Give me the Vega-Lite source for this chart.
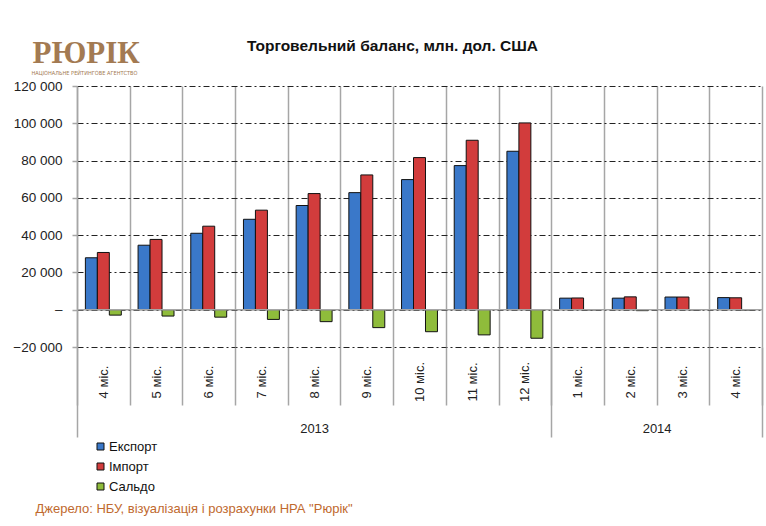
{
  "$schema": "https://vega.github.io/schema/vega-lite/v6.json",
  "width": 685,
  "height": 261,
  "autosize": {"type": "none"},
  "padding": {"left": 77, "top": 86, "right": 4, "bottom": 179},
  "background": "white",
  "config": {
    "view": {"stroke": null},
    "font": "Liberation Sans",
    "axis": {"labelFont": "Liberation Sans", "titleFont": "Liberation Sans"}
  },
  "layer": [
    {
      "data": {
        "values": [
          {"key": "2013|4 міс.", "series": "Експорт", "value": 27860},
          {"key": "2013|4 міс.", "series": "Імпорт", "value": 30700},
          {"key": "2013|4 міс.", "series": "Сальдо", "value": -2900},
          {"key": "2013|5 міс.", "series": "Експорт", "value": 34600},
          {"key": "2013|5 міс.", "series": "Імпорт", "value": 37700},
          {"key": "2013|5 міс.", "series": "Сальдо", "value": -3400},
          {"key": "2013|6 міс.", "series": "Експорт", "value": 41000},
          {"key": "2013|6 міс.", "series": "Імпорт", "value": 44800},
          {"key": "2013|6 міс.", "series": "Сальдо", "value": -4000},
          {"key": "2013|7 міс.", "series": "Експорт", "value": 48500},
          {"key": "2013|7 міс.", "series": "Імпорт", "value": 53400},
          {"key": "2013|7 міс.", "series": "Сальдо", "value": -5200},
          {"key": "2013|8 міс.", "series": "Експорт", "value": 55900},
          {"key": "2013|8 міс.", "series": "Імпорт", "value": 62300},
          {"key": "2013|8 міс.", "series": "Сальдо", "value": -6400},
          {"key": "2013|9 міс.", "series": "Експорт", "value": 62800},
          {"key": "2013|9 міс.", "series": "Імпорт", "value": 72300},
          {"key": "2013|9 міс.", "series": "Сальдо", "value": -9600},
          {"key": "2013|10 міс.", "series": "Експорт", "value": 69800},
          {"key": "2013|10 міс.", "series": "Імпорт", "value": 81600},
          {"key": "2013|10 міс.", "series": "Сальдо", "value": -11800},
          {"key": "2013|11 міс.", "series": "Експорт", "value": 77300},
          {"key": "2013|11 міс.", "series": "Імпорт", "value": 90900},
          {"key": "2013|11 міс.", "series": "Сальдо", "value": -13500},
          {"key": "2013|12 міс.", "series": "Експорт", "value": 85000},
          {"key": "2013|12 міс.", "series": "Імпорт", "value": 100200},
          {"key": "2013|12 міс.", "series": "Сальдо", "value": -15300},
          {"key": "2014|1 міс.", "series": "Експорт", "value": 6200},
          {"key": "2014|1 міс.", "series": "Імпорт", "value": 6300},
          {"key": "2014|1 міс.", "series": "Сальдо", "value": -100},
          {"key": "2014|2 міс.", "series": "Експорт", "value": 6200},
          {"key": "2014|2 міс.", "series": "Імпорт", "value": 6900},
          {"key": "2014|2 міс.", "series": "Сальдо", "value": -500},
          {"key": "2014|3 міс.", "series": "Експорт", "value": 6800},
          {"key": "2014|3 міс.", "series": "Імпорт", "value": 6800},
          {"key": "2014|3 міс.", "series": "Сальдо", "value": -100},
          {"key": "2014|4 міс.", "series": "Експорт", "value": 6500},
          {"key": "2014|4 міс.", "series": "Імпорт", "value": 6400},
          {"key": "2014|4 міс.", "series": "Сальдо", "value": -200}
        ]
      },
      "layer": [
        {
          "mark": {"type": "bar", "stroke": "#111111", "strokeWidth": 1},
          "encoding": {
            "x": {
              "field": "key",
              "type": "nominal",
              "sort": ["2013|4 міс.", "2013|5 міс.", "2013|6 міс.", "2013|7 міс.", "2013|8 міс.", "2013|9 міс.", "2013|10 міс.", "2013|11 міс.", "2013|12 міс.", "2014|1 міс.", "2014|2 міс.", "2014|3 міс.", "2014|4 міс."],
              "scale": {"paddingInner": 0, "paddingOuter": 0},
              "axis": {
                "orient": "bottom",
                "labelExpr": "split(datum.label, '|')[1]",
                "labelAngle": -90,
                "labelAlign": "center",
                "labelBaseline": "middle",
                "labelPadding": -23.5,
                "labelFontSize": 13,
                "labelColor": "#222222",
                "tickBand": "extent",
                "tickSize": 58,
                "tickColor": "#a6a6a6",
                "tickWidth": 1.5,
                "grid": true,
                "gridColor": "#a6a6a6",
                "gridWidth": 1.5,
                "domain": false,
                "title": "Джерело: НБУ, візуалізація і розрахунки НРА \"Рюрік\"",
                "titleX": -42,
                "titleY": 161,
                "titleAlign": "left",
                "titleBaseline": "middle",
                "titleFontWeight": "normal",
                "titleFontSize": 13,
                "titleColor": "#c0692e"
              }
            },
            "xOffset": {
              "field": "series",
              "type": "nominal",
              "sort": ["Експорт", "Імпорт", "Сальдо"],
              "scale": {"paddingOuter": 0.7, "paddingInner": 0}
            },
            "y": {
              "field": "value",
              "type": "quantitative",
              "scale": {"domain": [-20000, 120000], "nice": false},
              "axis": {
                "values": [-20000, 0, 20000, 40000, 60000, 80000, 100000, 120000],
                "tickCount": 20,
                "labelExpr": "datum.value == 0 ? '–' : replace(format(datum.value, ','), ',', ' ')",
                "labelOverlap": false,
                "labelFontSize": 13.5,
                "labelColor": "#222222",
                "labelPadding": 10,
                "tickSize": 5,
                "tickColor": "#a6a6a6",
                "tickWidth": 1.5,
                "domainColor": "#a6a6a6",
                "domainWidth": 1.5,
                "grid": true,
                "gridColor": "#222222",
                "gridWidth": 1,
                "gridDash": [6, 3, 2, 3],
                "title": "Торговельний баланс, млн. дол. США",
                "titleAngle": 0,
                "titleX": 315,
                "titleY": -41,
                "titleAlign": "center",
                "titleBaseline": "middle",
                "titleFontSize": 15.5,
                "titleFontWeight": "bold",
                "titleColor": "#111111"
              }
            },
            "color": {
              "field": "series",
              "type": "nominal",
              "scale": {"domain": ["Експорт", "Імпорт", "Сальдо"], "range": ["#3a78c9", "#d23c3c", "#8fbc3b"]},
              "legend": {
                "title": null,
                "orient": "none",
                "legendX": 17,
                "legendY": 354,
                "padding": 0,
                "symbolType": "square",
                "symbolSize": 49,
                "symbolStrokeColor": "#111111",
                "symbolStrokeWidth": 1,
                "labelFontSize": 13,
                "labelFont": "Liberation Sans",
                "labelColor": "#111111",
                "labelOffset": 2,
                "rowPadding": 6
              }
            }
          }
        },
        {
          "data": {"values": [{"v": 0}]},
          "mark": {"type": "rule", "color": "#a6a6a6", "strokeWidth": 1.5},
          "encoding": {"y": {"field": "v", "type": "quantitative"}}
        }
      ]
    },
    {
      "data": {"values": [{"p": 0}, {"p": 13}]},
      "mark": {"type": "tick", "opacity": 0},
      "encoding": {
        "x": {
          "field": "p",
          "type": "quantitative",
          "scale": {"domain": [0, 13], "nice": false, "zero": false},
          "axis": {
            "orient": "bottom",
            "values": [0, 9, 13],
            "labels": false,
            "grid": false,
            "domain": false,
            "ticks": true,
            "tickSize": 90,
            "tickColor": "#a6a6a6",
            "tickWidth": 1.5,
            "title": "РЮРІК",
            "titleFont": "Liberation Serif",
            "titleFontSize": 31,
            "titleFontWeight": "bold",
            "titleColor": "#a37a52",
            "titleX": -45,
            "titleY": -285,
            "titleAlign": "left",
            "titleBaseline": "alphabetic"
          }
        }
      }
    },
    {
      "data": {"values": [{"p": 0}, {"p": 13}]},
      "mark": {"type": "tick", "opacity": 0},
      "encoding": {
        "x": {
          "field": "p",
          "type": "quantitative",
          "scale": {"domain": [0, 13], "nice": false, "zero": false},
          "axis": {
            "orient": "bottom",
            "values": [4.5, 11],
            "labelExpr": "datum.value < 9 ? '2013' : '2014'",
            "labelFontSize": 13,
            "labelColor": "#222222",
            "labelBaseline": "middle",
            "labelPadding": 81,
            "labelFlush": false,
            "ticks": false,
            "grid": false,
            "domain": false,
            "title": "НАЦІОНАЛЬНЕ РЕЙТИНГОВЕ АГЕНТСТВО",
            "titleFont": "Liberation Sans Narrow, DejaVu Sans Condensed, Liberation Sans",
            "titleFontSize": 5.6,
            "titleFontWeight": "normal",
            "titleColor": "#a37a52",
            "titleX": -46,
            "titleY": -275,
            "titleAlign": "left",
            "titleBaseline": "middle"
          }
        }
      }
    }
  ],
  "resolve": {"scale": {"x": "independent"}, "axis": {"x": "independent"}}
}
